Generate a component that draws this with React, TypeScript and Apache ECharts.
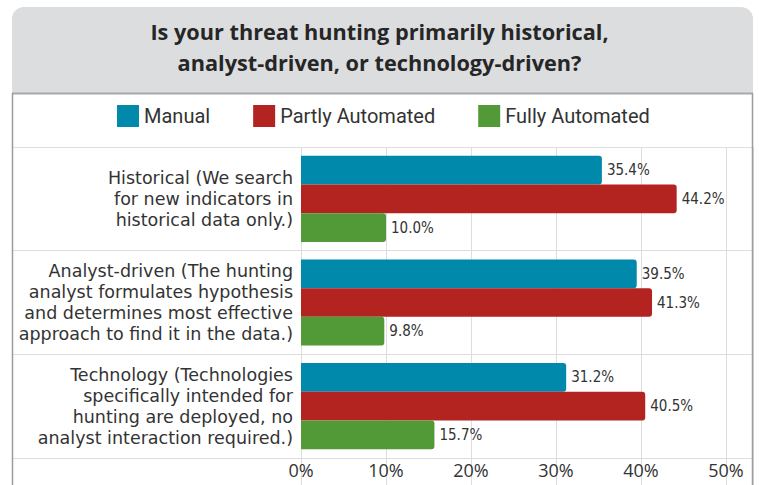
import React, { useEffect, useRef } from "react";
import * as echarts from "echarts";

const categories = [
  "Historical (We search\nfor new indicators in\nhistorical data only.)",
  "Analyst-driven (The hunting\nanalyst formulates hypothesis\nand determines most effective\napproach to find it in the data.)",
  "Technology (Technologies\nspecifically intended for\nhunting are deployed, no\nanalyst interaction required.)",
];
const seriesNames = ["Manual", "Partly Automated", "Fully Automated"];
const manual = [35.4, 39.5, 31.2];
const partly = [44.2, 41.3, 40.5];
const fully = [10.0, 9.8, 15.7];
const colors = ["#0089AA", "#B3231F", "#519A37"];
const titleText = "Is your threat hunting primarily historical,\nanalyst-driven, or technology-driven?";

export default function App() {
  const ref = useRef<HTMLDivElement>(null);
  useEffect(() => {
    if (!ref.current) return;
    const chart = echarts.init(ref.current, null, { renderer: "svg" });
    const gridColor = "#dedede";
    const values = [manual, partly, fully];
    chart.setOption({
      animation: false,
      backgroundColor: "#ffffff",
      graphic: [
        {
          type: "rect",
          z: -10,
          shape: { x: 12, y: 7, width: 741, height: 86, r: [12, 12, 0, 0] },
          style: { fill: "#dcdddf" },
        },
        {
          type: "line",
          z: 10,
          shape: { x1: 12, y1: 93.5, x2: 753, y2: 93.5 },
          style: { stroke: "#a8a8a8", lineWidth: 2 },
        },
        {
          type: "line",
          z: 10,
          shape: { x1: 12.5, y1: 93, x2: 12.5, y2: 490 },
          style: { stroke: "#9c9c9c", lineWidth: 1.5 },
        },
        {
          type: "line",
          z: 10,
          shape: { x1: 752.5, y1: 93, x2: 752.5, y2: 490 },
          style: { stroke: "#9c9c9c", lineWidth: 1.5 },
        },
      ],
      title: {
        text: titleText,
        left: "center",
        top: 16,
        padding: [0, 0, 0, 7],
        textStyle: {
          fontFamily: "Open Sans",
          fontWeight: "bold",
          fontSize: 21.7,
          lineHeight: 31,
          color: "#262626",
        },
      },
      legend: {
        left: 117,
        top: 105,
        padding: 0,
        itemWidth: 22,
        itemHeight: 22,
        itemGap: 43,
        icon: "rect",
        data: seriesNames,
        textStyle: {
          fontFamily: "Roboto",
          fontSize: 20,
          color: "#333333",
        },
      },
      grid: { left: 301, top: 147, width: 452, height: 311, containLabel: false },
      xAxis: {
        type: "value",
        min: 0,
        max: 53.18,
        interval: 10,
        axisLine: { show: false },
        axisTick: { show: true, length: 30, lineStyle: { color: gridColor } },
        splitLine: { show: true, lineStyle: { color: gridColor } },
        axisLabel: {
          margin: 3,
          fontFamily: "Open Sans",
          fontSize: 18,
          color: "#333333",
          formatter: (v: number) => (Math.abs(v % 10) < 1e-6 ? v + "%" : ""),
        },
      },
      yAxis: {
        type: "category",
        inverse: true,
        data: categories,
        axisLine: { show: false },
        axisTick: { show: true, alignWithLabel: false, length: 289, lineStyle: { color: gridColor } },
        splitLine: { show: true, lineStyle: { color: gridColor } },
        axisLabel: {
          margin: 8,
          fontFamily: "DejaVu Sans",
          fontSize: 17.5,
          lineHeight: 21,
          color: "#333333",
          align: "right",
        },
      },
      series: seriesNames.map((name, i) => ({
        name,
        type: "bar",
        data: values[i],
        barWidth: 28.7,
        barGap: "0%",
        itemStyle: { color: colors[i], borderRadius: [0, 3, 3, 0] },
        label: {
          show: true,
          position: "right",
          distance: 5,
          fontFamily: "'Liberation Sans Narrow', 'DejaVu Sans Condensed', Roboto",
          fontSize: 15,
          color: "#333333",
          formatter: (p: any) => p.value.toFixed(1) + "%",
        },
      })),
    });
    return () => chart.dispose();
  }, []);
  return (
    <div
      ref={ref}
      style={{ position: "fixed", left: 0, top: 0, width: 759, height: 485, background: "#fff" }}
    />
  );
}
